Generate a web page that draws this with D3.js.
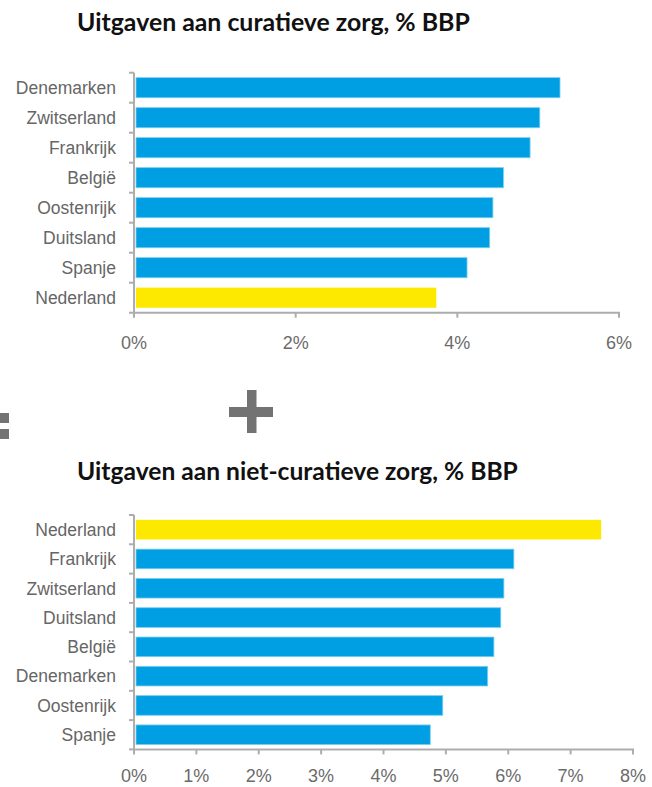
<!DOCTYPE html>
<html>
<head>
<meta charset="utf-8">
<script src="https://cdn.jsdelivr.net/npm/d3@7"></script>
<style>
  html, body { margin: 0; padding: 0; background: #fff; }
  svg { display: block; }
  .title { font-family: Lato, "Open Sans", sans-serif; font-weight: 700; fill: #111; }
  .cat { font-family: "Liberation Sans", Arial, sans-serif; font-size: 17.5px; fill: #666; }
  .tick-label { font-family: "Liberation Sans", Arial, sans-serif; font-size: 18px; fill: #6b6b6b; }
</style>
</head>
<body>
<div id="chart"></div>
<script>
// --- data ---------------------------------------------------------------
const curCountries = ["Denemarken", "Zwitserland", "Frankrijk", "België", "Oostenrijk", "Duitsland", "Spanje", "Nederland"];
const curValues    = [5.27, 5.02, 4.90, 4.57, 4.44, 4.40, 4.12, 3.74];
const curTicks     = [0, 2, 4, 6];

const nonCountries = ["Nederland", "Frankrijk", "Zwitserland", "Duitsland", "België", "Denemarken", "Oostenrijk", "Spanje"];
const nonValues    = [7.49, 6.09, 5.93, 5.88, 5.77, 5.67, 4.95, 4.75];
const nonTicks     = [0, 1, 2, 3, 4, 5, 6, 7, 8];

const highlight = "Nederland";
const titles = ["Uitgaven aan curatieve zorg, % BBP", "Uitgaven aan niet-curatieve zorg, % BBP"];

(function () {
  const W = 652, H = 787;
  const blue = "#009fe3", yellow = "#fde800", axisGrey = "#adadad";

  const svg = d3.select("#chart").append("svg")
    .attr("width", W).attr("height", H);

  // title, fitted to the width seen in the original
  function title(text, x, y, targetW) {
    const t = svg.append("text").attr("class", "title")
      .attr("x", x).attr("y", y).style("font-size", "20px").text(text);
    const w = t.node().getComputedTextLength();
    t.style("font-size", (20 * targetW / w).toFixed(2) + "px");
  }

  function panel(cats, vals, ticks, top, bottom, right, labelY) {
    const rows = cats.map((c, i) => ({ c, v: vals[i] }));
    const x = d3.scaleLinear().domain([0, d3.max(ticks)]).range([134, right]);
    const y = d3.scaleBand().domain(cats).range([top, bottom]).paddingInner(0.33).paddingOuter(0.165);
    const g = svg.append("g");

    g.selectAll("rect.bar").data(rows).join("rect")
      .attr("class", "bar")
      .attr("x", x(0) + 2)
      .attr("y", d => y(d.c))
      .attr("width", d => x(d.v) - x(0) - 2)
      .attr("height", y.bandwidth())
      .attr("fill", d => d.c === highlight ? yellow : blue)
      .attr("stroke", d => d.c === highlight ? "none" : "#7ccdf1")
      .attr("stroke-width", 0.8);

    // y axis: line with ticks at band boundaries pointing left
    const ya = g.append("g");
    ya.append("line").attr("x1", x(0)).attr("x2", x(0))
      .attr("y1", top).attr("y2", bottom)
      .attr("stroke", axisGrey).attr("stroke-width", 2);
    const step = y.step();
    d3.range(cats.length + 1).forEach(i => {
      const yy = top + i * step;
      ya.append("line").attr("x1", x(0) - 5).attr("x2", x(0))
        .attr("y1", yy).attr("y2", yy)
        .attr("stroke", axisGrey).attr("stroke-width", 2);
    });
    ya.selectAll("text").data(cats).join("text")
      .attr("class", "cat")
      .attr("x", 116)
      .attr("y", d => y(d) + y.bandwidth() / 2)
      .attr("dy", "0.36em")
      .attr("text-anchor", "end")
      .text(d => d);

    // x axis
    const xa = g.append("g").attr("transform", `translate(0,${bottom})`);
    xa.append("line").attr("x1", x(0) - 1).attr("x2", x(d3.max(ticks)) + 1)
      .attr("stroke", axisGrey).attr("stroke-width", 2);
    xa.selectAll("line.tk").data(ticks).join("line")
      .attr("class", "tk")
      .attr("x1", d => x(d)).attr("x2", d => x(d))
      .attr("y1", 0).attr("y2", 5)
      .attr("stroke", axisGrey).attr("stroke-width", 2);
    xa.selectAll("text").data(ticks).join("text")
      .attr("class", "tick-label")
      .attr("x", d => x(d))
      .attr("y", labelY)
      .attr("text-anchor", "middle")
      .text(d => d + "%");
  }

  title(titles[0], 77, 31, 393);
  panel(curCountries, curValues, curTicks, 72.7, 312.7, 619, 36);

  // decorative signs between the panels
  const signColor = "#737373";
  svg.append("rect").attr("x", 229).attr("y", 407).attr("width", 44).attr("height", 10).attr("fill", signColor);
  svg.append("rect").attr("x", 247).attr("y", 390).attr("width", 9.5).attr("height", 43).attr("fill", signColor);
  svg.append("rect").attr("x", 0).attr("y", 413).attr("width", 9).attr("height", 10).attr("fill", signColor);
  svg.append("rect").attr("x", 0).attr("y", 429).attr("width", 9).attr("height", 10).attr("fill", signColor);

  title(titles[1], 77, 480, 441);
  panel(nonCountries, nonValues, nonTicks, 515, 749.4, 633, 32.5);
})();
</script>
</body>
</html>
